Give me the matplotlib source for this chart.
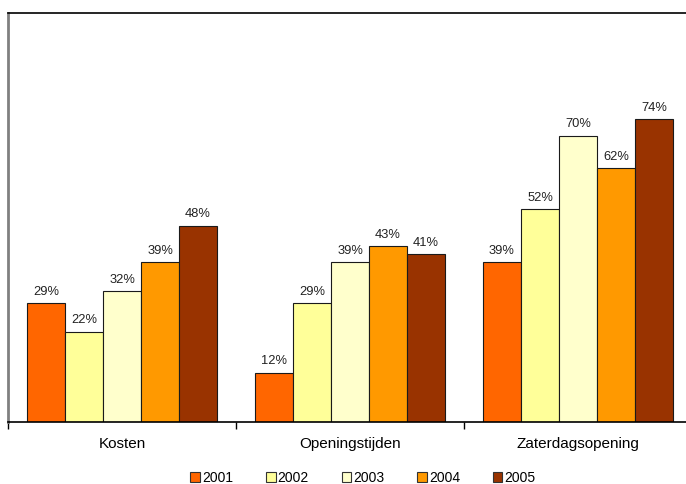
import matplotlib.pyplot as plt
import numpy as np
from matplotlib.patches import Patch

plt.rcParams['font.family'] = ['Liberation Sans', 'DejaVu Sans']

categories = ["Kosten", "Openingstijden", "Zaterdagsopening"]
years = ["2001", "2002", "2003", "2004", "2005"]
v2001 = [29, 12, 39]
v2002 = [22, 29, 52]
v2003 = [32, 39, 70]
v2004 = [39, 43, 62]
v2005 = [48, 41, 74]
series = [v2001, v2002, v2003, v2004, v2005]
colors = ["#FF6600", "#FFFF99", "#FFFFCC", "#FF9900", "#993300"]

W, H = 686, 484
fig = plt.figure(figsize=(W / 100, H / 100), dpi=100)
ax = fig.add_axes([8 / W, (H - 422) / H, 684 / W, (422 - 13) / H])

n = len(years)
group = 5 / 6
bw = group / n
x = np.arange(len(categories))
for i, (vals, c) in enumerate(zip(series, colors)):
    pos = x - group / 2 + bw * (i + 0.5)
    bars = ax.bar(pos, vals, width=bw, color=c, edgecolor="#1a1a1a",
                  linewidth=0.8, label=years[i])
    for b, v in zip(bars, vals):
        ax.annotate(f"{v}%", (b.get_x() + b.get_width() / 2, v),
                    xytext=(0, 4), textcoords="offset points",
                    ha="center", va="bottom", fontsize=9.3, color="#222222")

ax.set_xlim(-0.5, len(categories) - 0.5)
ax.set_ylim(0, 100)
ax.set_yticks([])
ax.set_xticks(np.arange(len(categories) + 1) - 0.5, minor=True)
ax.set_xticks(x)
ax.set_xticklabels(categories, fontsize=11)
ax.tick_params(axis="x", which="major", length=0, pad=11)
ax.tick_params(axis="x", which="minor", length=5, width=1, direction="out")
ax.spines["left"].set_color("#808080")
ax.spines["left"].set_linewidth(2)
for s in ["top", "bottom", "right"]:
    ax.spines[s].set_color("black")
    ax.spines[s].set_linewidth(1.2)

handles = [Patch(facecolor=c, edgecolor="#333333", linewidth=0.8) for c in colors]
fig.legend(handles, years, loc="center", bbox_to_anchor=(363 / W, 1 - 478 / H),
           ncol=5, frameon=False, fontsize=10, handlelength=0.7,
           handleheight=0.7, handletextpad=0.15, columnspacing=2.35)

fig.savefig("out.png", dpi=100)
